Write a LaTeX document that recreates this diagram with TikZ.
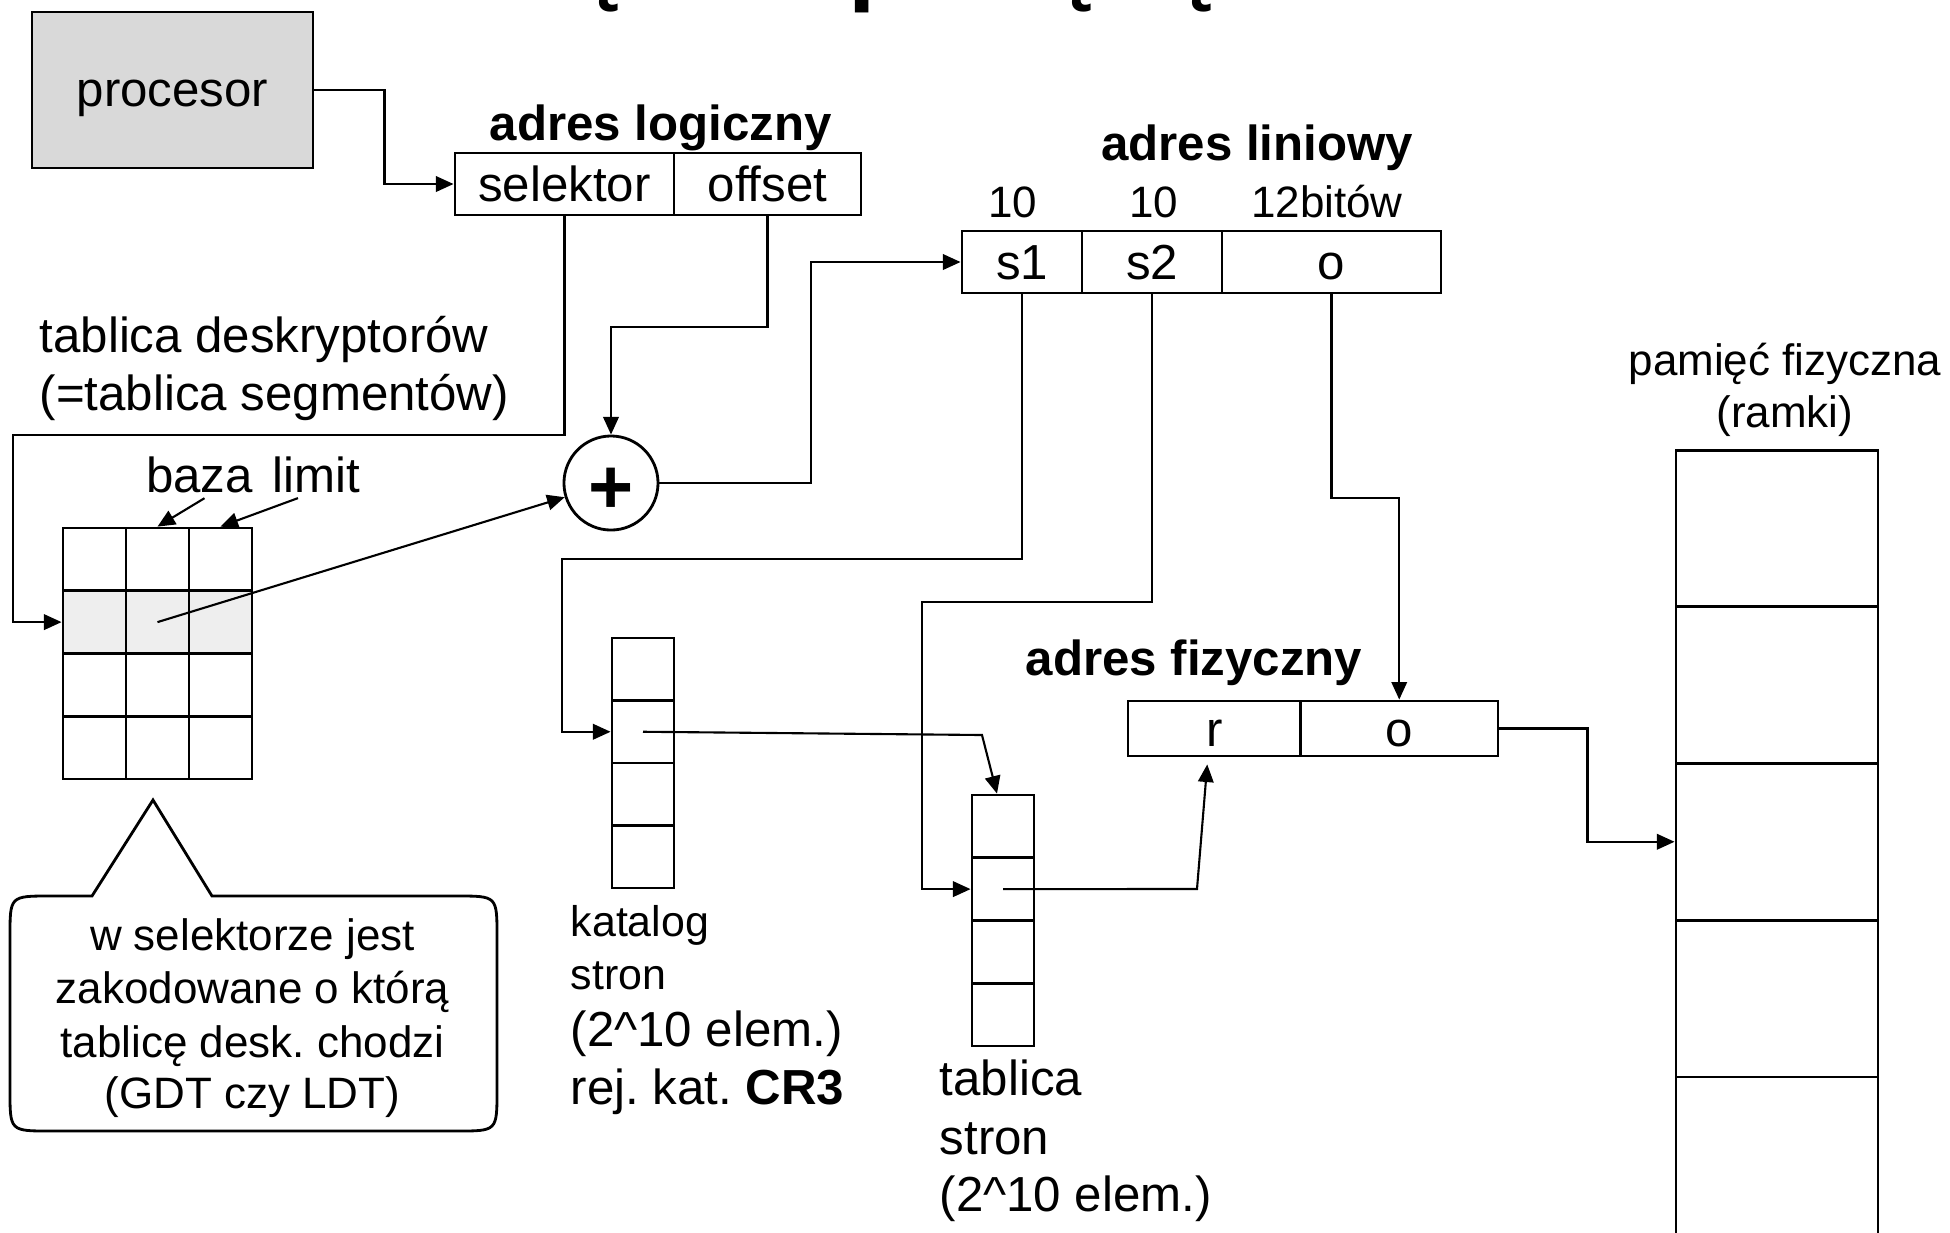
\documentclass[tikz,border=0pt]{standalone}
\usepackage{fontspec}
\setmainfont{Liberation Sans}
\usetikzlibrary{arrows.meta,calc}
\definecolor{procgray}{HTML}{D9D9D9}
\definecolor{rowgray}{HTML}{EEEEEE}
\frenchspacing
\begin{document}
\begin{tikzpicture}[x=0.01cm,y=-0.01cm,
  lbl/.style={font=\fontsize{14}{16}\selectfont, inner sep=0pt},
  sml/.style={font=\fontsize{12.5}{15}\selectfont, inner sep=0pt},
  kat/.style={font=\fontsize{12.2}{15}\selectfont, inner sep=0pt},
  ttl/.style={font=\fontsize{14}{16}\selectfont\bfseries, inner sep=0pt},
  frag/.style={font=\fontsize{28}{30}\selectfont\bfseries, inner sep=0pt, anchor=base},
  cell/.style={draw, line width=0.8pt, inner sep=0pt, font=\fontsize{14}{16}\selectfont, text height=10pt, text depth=0pt},
  gcell/.style={draw, line width=0.8pt, inner sep=0pt, minimum width=0.63cm, minimum height=0.6275cm},
  kcell/.style={draw, line width=0.8pt, inner sep=0pt, minimum width=0.62cm, minimum height=0.625cm},
  mcell/.style={draw, line width=0.8pt, inner sep=0pt, minimum width=2.02cm, minimum height=1.5675cm},
  conn/.style={line width=0.6pt, -{Triangle[length=5pt,width=4.4pt]}},
]
\useasboundingbox (0,0) rectangle (1950,1232);

% clipped title remnants
\begin{scope}
\clip (0,0) rectangle (1950,1232);
\node[frag] (tf1) at (601,-8) {ę};
\node[frag] (tf2) at (879,-8) {p};
\node[frag] (tf3) at (1074,-8) {ę};
\node[frag] (tf4) at (1194,-8) {ę};
\end{scope}

% procesor
\node[draw, line width=0.8pt, fill=procgray, minimum width=2.81cm, minimum height=1.56cm,
      font=\fontsize{14}{16}\selectfont, text height=10pt, text depth=0.4pt] (proc) at (172.5,90) {procesor};

% logical address
\node[ttl, anchor=base] (lal) at (661,140) {adres logiczny};
\node[cell, minimum width=2.19cm, minimum height=0.62cm] (sel) at (564.5,184) {selektor};
\node[cell, minimum width=1.87cm, minimum height=0.62cm] (off) at (767.5,184) {offset};
\draw[conn] (proc.east) -- ++(70,0) |- (sel.west);

% descriptor table
\node[lbl, anchor=base west] (td1) at (39,352) {tablica deskryptorów};
\node[lbl, anchor=base west] (td2) at (39,410) {(=tablica segmentów)};
\foreach \r/\y in {1/559.4,3/684.9,4/747.6}
  \foreach \c/\x in {1/94.5,2/157.5,3/220.5}
    \node[gcell] (g\r\c) at (\x,\y) {};
\foreach \c/\x in {1/94.5,2/157.5,3/220.5}
  \node[gcell, fill=rowgray] (g2\c) at (\x,622.1) {};

\node[lbl, anchor=base] (baza) at (199.5,492) {baza};
\node[lbl, anchor=base] (limit) at (316,492) {limit};
\draw[conn] ($(baza.south)+(5,5)$) -- (g12.north);
\draw[conn] ($(limit.south)+(-18,5)$) -- (g13.north);

\coordinate (selbend) at (13,435);
\draw[conn] (sel.south) |- (selbend) |- (g21.west);

% adder
\node[draw, circle, line width=0.8pt, minimum size=0.94cm, inner sep=0pt] (plus) at (611,483) {};
\node[inner sep=0pt, font=\fontsize{22}{24}\selectfont\bfseries] (plussign) at (611,491) {+};
\draw[conn] (off.south) -- ++(0,111) -| (plus.north);
\draw[conn] (g22.center) -- (plus);

% linear address
\node[ttl, anchor=base] (lin) at (1257,160) {adres liniowy};
\node[sml, anchor=base] (b1) at (1013,217) {10};
\node[sml, anchor=base] (b2) at (1154,217) {10};
\node[sml, anchor=base] (b3) at (1327,217) {12bitów};
\node[cell, minimum width=1.20cm, minimum height=0.62cm] (ls1) at (1022,262) {s1};
\node[cell, minimum width=1.40cm, minimum height=0.62cm] (ls2) at (1152,262) {s2};
\node[cell, minimum width=2.19cm, minimum height=0.62cm] (lo) at (1331.5,262) {o};
\draw[conn] (plus.east) -- ++(152,0) |- (ls1.west);

% page directory
\foreach \r/\y in {1/669.25,2/731.75,3/794.25,4/856.75}
  \node[kcell] (k\r) at (643,\y) {};
\coordinate (s1bend) at (562,559);
\draw[conn] (ls1.south) |- (s1bend) |- (k2.west);
\node[kat, anchor=base west] (kt1) at (570,936) {katalog};
\node[kat, anchor=base west] (kt2) at (570,989) {stron};
\node[lbl, anchor=base west] (kt3) at (570,1046) {(2\^{}10 elem.)};
\node[lbl, anchor=base west] (kt4) at (570,1104) {rej. kat. \textbf{CR3}};

% page table
\foreach \r/\y in {1/826.4,2/889.1,3/951.9,4/1014.6}
  \node[kcell, minimum height=0.6275cm] (t\r) at (1003,\y) {};
\coordinate (s2bend) at (922,602);
\draw[conn] (ls2.south) |- (s2bend) |- (t2.west);
\coordinate (kb) at (982,735);
\draw[conn] (k2.center) -- (kb) -- ($(t1.north)+(-6,0)$);
\node[lbl, anchor=base west] (ts1) at (939,1095) {tablica};
\node[lbl, anchor=base west] (ts2) at (939,1154) {stron};
\node[lbl, anchor=base west] (ts3) at (939,1211) {(2\^{}10 elem.)};

% physical address
\node[ttl, anchor=base] (paf) at (1194,675) {adres fizyczny};
\node[cell, minimum width=1.725cm, minimum height=0.55cm] (pr) at (1214.25,728.5) {r};
\node[cell, minimum width=1.975cm, minimum height=0.55cm] (po) at (1399.25,728.5) {o};
\coordinate (tb) at (1197,889);
\draw[conn] (t2.center) -- (tb) -- ($(pr.south)+(-7,7)$);
\draw[conn] (lo.south) -- ++(0,204) -| (po.north);

% physical memory
\foreach \r/\y in {1/528.5,2/685.25,3/841.75,4/998.5}
  \node[mcell] (m\r) at (1777,\y) {};
\node[mcell, minimum height=1.65cm] (m5) at (1777,1159.5) {};
\node[sml, anchor=base] (pf1) at (1785,375) {pamięć fizyczna};
\node[sml, anchor=base] (pf2) at (1785,427) {(ramki)};
\draw[conn] (po.east) -- ++(88,0) |- (m3.west);

% callout
\draw[line width=0.8pt] (92,896) -- (153,800) -- (212,896) -- (457,896)
  .. controls (497,896) .. (497,936) -- (497,1091)
  .. controls (497,1131) .. (457,1131) -- (50,1131)
  .. controls (10,1131) .. (10,1091) -- (10,936)
  .. controls (10,896) .. (50,896) -- cycle;
\node[sml, anchor=base] (cl1) at (252.5,950) {w selektorze jest};
\node[sml, anchor=base] (cl2) at (252.5,1003) {zakodowane o którą};
\node[sml, anchor=base] (cl3) at (252.5,1057) {tablicę desk. chodzi};
\node[sml, anchor=base] (cl4) at (252.5,1108) {(GDT czy LDT)};
\end{tikzpicture}
\end{document}
